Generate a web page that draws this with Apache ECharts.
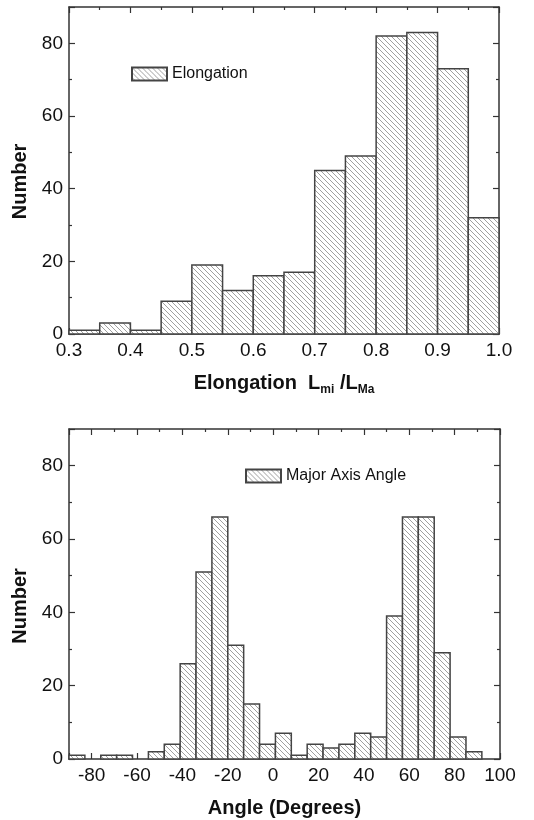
<!DOCTYPE html>
<html>
<head>
<meta charset="utf-8">
<script src="https://cdn.jsdelivr.net/npm/echarts@6/dist/echarts.min.js"></script>
<style>
  html, body { margin: 0; padding: 0; background: #fff; }
  #chart { width: 534px; height: 820px; }
</style>
</head>
<body>
<div id="chart"></div>
<script>
// elongation histogram, bins of 0.05
const elongStart = [0.30, 0.35, 0.40, 0.45, 0.50, 0.55, 0.60, 0.65, 0.70, 0.75, 0.80, 0.85, 0.90, 0.95];
const elongCount = [1, 3, 1, 9, 19, 12, 16, 17, 45, 49, 82, 83, 73, 32];
const elongWidth = 0.05;

// major axis angle histogram, bins of 7 degrees
const angleStart = [-90, -83, -76, -69, -62, -55, -48, -41, -34, -27, -20, -13, -6, 1, 8, 15, 22, 29, 36, 43, 50, 57, 64, 71, 78, 85];
const angleCount = [1, 0, 1, 1, 0, 2, 4, 26, 51, 66, 31, 15, 4, 7, 1, 4, 3, 4, 7, 6, 39, 66, 66, 29, 6, 2];
const angleWidth = 7;

const FONT = '"Liberation Sans", Arial, sans-serif';

// hatch fill "\\\"
function makeHatch() {
  const s = 5;
  const c = document.createElement('canvas');
  c.width = s; c.height = s;
  const ctx = c.getContext('2d');
  ctx.fillStyle = '#fff';
  ctx.fillRect(0, 0, s, s);
  ctx.strokeStyle = '#a0a0a0';
  ctx.lineWidth = 1;
  ctx.beginPath();
  ctx.moveTo(-1, -1); ctx.lineTo(s + 1, s + 1);
  ctx.moveTo(-1, s - 1); ctx.lineTo(1, s + 1);
  ctx.moveTo(s - 1, -1); ctx.lineTo(s + 1, 1);
  ctx.stroke();
  return { image: c, repeat: 'repeat' };
}
const hatch = makeHatch();

function toRows(starts, counts, w) {
  return starts.map((s, i) => [s, s + w, counts[i]]);
}

function renderBin(params, api) {
  const y = api.value(2);
  if (!y) return null;
  const p0 = api.coord([api.value(0), y]);
  const p1 = api.coord([api.value(1), 0]);
  return {
    type: 'rect',
    shape: { x: p0[0], y: p0[1], width: p1[0] - p0[0], height: p1[1] - p0[1] },
    style: { fill: hatch, stroke: '#444', lineWidth: 1.5 }
  };
}

const axisLine = { show: true, onZero: false, lineStyle: { color: '#333', width: 1.5 } };
const tick = { show: true, inside: true, length: 6, lineStyle: { color: '#333', width: 1.2 } };
const minor = { show: true, splitNumber: 2, length: 3, lineStyle: { color: '#333', width: 1.2 } };
const tickLabel = { color: '#111', fontSize: 19, fontFamily: FONT };
const titleStyle = { color: '#111', fontSize: 20, fontWeight: 'bold', fontFamily: FONT };

function frameX(grid, pos, extra) {
  return Object.assign({
    type: 'value', gridIndex: grid, position: pos,
    axisLine: axisLine, axisTick: tick, minorTick: minor,
    splitLine: { show: false }
  }, extra);
}

const chart = echarts.init(document.getElementById('chart'));
chart.setOption({
  animation: false,
  backgroundColor: '#fff',
  grid: [
    { left: 69, right: 35, top: 7, bottom: 486 },
    { left: 69, right: 34, top: 429, bottom: 61 }
  ],
  legend: [
    {
      left: 126, top: 61, itemWidth: 35, itemHeight: 13,
      textStyle: { color: '#111', fontSize: 16, fontFamily: FONT },
      data: [{ name: 'Elongation', icon: 'rect' }]
    },
    {
      left: 240, top: 463, itemWidth: 35, itemHeight: 13,
      textStyle: { color: '#111', fontSize: 16, fontFamily: FONT },
      data: [{ name: 'Major Axis Angle', icon: 'rect' }]
    }
  ],
  xAxis: [
    frameX(0, 'bottom', {
      min: 0.3, max: 1.0, interval: 0.1,
      axisLabel: Object.assign({ margin: 7, formatter: v => v.toFixed(1) }, tickLabel),
      name: '{b|Elongation  L}{s|mi}{b| /L}{s|Ma}',
      nameLocation: 'middle', nameGap: 36,
      nameTextStyle: {
        rich: {
          b: Object.assign({ lineHeight: 26, verticalAlign: 'middle' }, titleStyle),
          s: { fontSize: 12, fontWeight: 'bold', fontFamily: FONT, color: '#111', lineHeight: 26, verticalAlign: 'bottom' }
        }
      }
    }),
    frameX(0, 'top', { min: 0.3, max: 1.0, interval: 0.1, axisLabel: { show: false } }),
    frameX(1, 'bottom', {
      min: -90, max: 100, splitNumber: 10,
      axisLabel: Object.assign({ margin: 7, showMinLabel: false }, tickLabel),
      name: 'Angle (Degrees)', nameLocation: 'middle', nameGap: 39,
      nameTextStyle: titleStyle
    }),
    frameX(1, 'top', { min: -90, max: 100, splitNumber: 10, axisLabel: { show: false } })
  ],
  yAxis: [
    frameX(0, 'left', {
      min: 0, max: 90, interval: 20,
      axisLabel: Object.assign({ margin: 6, showMaxLabel: false }, tickLabel),
      name: 'Number', nameLocation: 'middle', nameGap: 37,
      nameTextStyle: Object.assign({ padding: [0, 22, 0, 0] }, titleStyle)
    }),
    frameX(0, 'right', { min: 0, max: 90, interval: 20, axisLabel: { show: false } }),
    frameX(1, 'left', {
      min: 0, max: 90, interval: 20,
      axisLabel: Object.assign({ margin: 6, showMaxLabel: false }, tickLabel),
      name: 'Number', nameLocation: 'middle', nameGap: 37,
      nameTextStyle: Object.assign({ padding: [0, 24, 0, 0] }, titleStyle)
    }),
    frameX(1, 'right', { min: 0, max: 90, interval: 20, axisLabel: { show: false } })
  ],
  series: [
    {
      name: 'Elongation', type: 'custom', xAxisIndex: 0, yAxisIndex: 0,
      encode: { x: [0, 1], y: 2 },
      itemStyle: { color: hatch, borderColor: '#444', borderWidth: 1.5 },
      renderItem: renderBin,
      data: toRows(elongStart, elongCount, elongWidth)
    },
    {
      name: 'Major Axis Angle', type: 'custom', xAxisIndex: 2, yAxisIndex: 2,
      encode: { x: [0, 1], y: 2 },
      itemStyle: { color: hatch, borderColor: '#444', borderWidth: 1.5 },
      renderItem: renderBin,
      data: toRows(angleStart, angleCount, angleWidth)
    }
  ]
});
</script>
</body>
</html>
